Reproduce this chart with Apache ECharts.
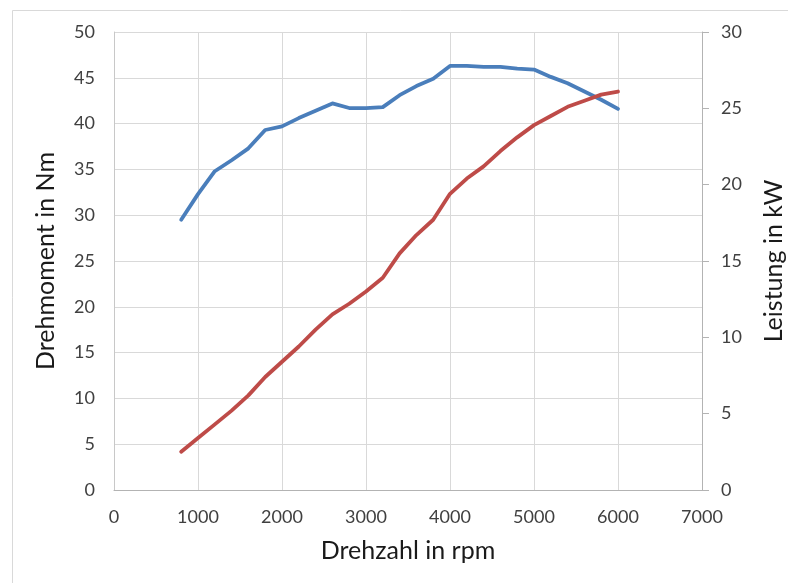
<!DOCTYPE html>
<html>
<head>
<meta charset="utf-8">
<script src="https://cdn.jsdelivr.net/npm/echarts@6/dist/echarts.min.js"></script>
<style>
  html, body { margin: 0; padding: 0; background: #ffffff; }
  #chart { width: 788px; height: 583px; }
</style>
</head>
<body>
<div id="chart"></div>
<script>
// Engine speed in rpm
const rpm = [800, 1000, 1200, 1400, 1600, 1800, 2000, 2200, 2400, 2600, 2800, 3000, 3200, 3400,
             3600, 3800, 4000, 4200, 4400, 4600, 4800, 5000, 5200, 5400, 5600, 5800, 6000];
// Torque in Nm
const torque = [29.5, 32.3, 34.8, 36.0, 37.3, 39.3, 39.7, 40.6, 41.4, 42.2, 41.7, 41.7, 41.8, 43.1,
                44.1, 44.9, 46.3, 46.3, 46.2, 46.2, 46.0, 45.9, 45.1, 44.4, 43.5, 42.6, 41.6];
// Power in kW
const power = [2.5, 3.4, 4.3, 5.2, 6.2, 7.4, 8.4, 9.4, 10.5, 11.5, 12.2, 13.0, 13.9, 15.5,
               16.7, 17.7, 19.4, 20.4, 21.2, 22.2, 23.1, 23.9, 24.5, 25.1, 25.5, 25.9, 26.1];

const xTitle = 'Drehzahl in rpm';
const yLeftTitle = 'Drehmoment in Nm';
const yRightTitle = 'Leistung in kW';

const FONT = 'Lato, "Open Sans", sans-serif';
const labelStyle = { fontFamily: FONT, fontSize: 18, color: '#404040' };
const titleStyle = { fontFamily: FONT, fontSize: 25, color: '#1a1a1a' };
const plainNumber = v => String(v);

const chart = echarts.init(document.getElementById('chart'), null, { renderer: 'canvas' });

chart.setOption({
  animation: false,
  backgroundColor: '#ffffff',
  graphic: [{
    type: 'rect',
    shape: { x: 12.5, y: 10.5, width: 800, height: 600 },
    style: { fill: 'none', stroke: '#d9d9d9', lineWidth: 1 },
    silent: true
  }],
  grid: { left: 114, right: 86, top: 32, bottom: 93, containLabel: false, outerBoundsMode: 'none' },
  xAxis: {
    type: 'value',
    min: 0, max: 7000, interval: 1000,
    name: xTitle,
    nameLocation: 'middle',
    nameGap: 48,
    nameTextStyle: titleStyle,
    axisLine: { show: true, lineStyle: { color: '#b3b3b3', width: 1 } },
    axisTick: { show: false },
    axisLabel: Object.assign({ margin: 18, formatter: plainNumber }, labelStyle),
    splitLine: { show: true, lineStyle: { color: '#d9d9d9', width: 1 } }
  },
  yAxis: [{
    type: 'value',
    position: 'left',
    min: 0, max: 50, interval: 5,
    name: yLeftTitle,
    nameLocation: 'middle',
    nameRotate: 90,
    nameGap: 56,
    nameTextStyle: titleStyle,
    axisLine: { show: true, lineStyle: { color: '#c8c8c8', width: 1 } },
    axisTick: { show: false },
    axisLabel: Object.assign({ margin: 19, formatter: plainNumber }, labelStyle),
    splitLine: { show: true, lineStyle: { color: '#d9d9d9', width: 1 } }
  }, {
    type: 'value',
    position: 'right',
    min: 0, max: 30, interval: 5,
    name: yRightTitle,
    nameLocation: 'middle',
    nameRotate: 90,
    nameGap: 59,
    nameTextStyle: titleStyle,
    axisLine: { show: true, lineStyle: { color: '#b3b3b3', width: 1 } },
    axisTick: { show: true, inside: false, length: 7, lineStyle: { color: '#b3b3b3' } },
    axisLabel: Object.assign({ margin: 19, formatter: plainNumber }, labelStyle),
    splitLine: { show: false }
  }],
  series: [{
    name: yLeftTitle,
    type: 'line',
    yAxisIndex: 0,
    data: rpm.map((r, i) => [r, torque[i]]),
    showSymbol: false,
    symbol: 'none',
    lineStyle: { color: '#4a7ebb', width: 3.8, join: 'round', cap: 'round' },
    itemStyle: { color: '#4a7ebb' }
  }, {
    name: yRightTitle,
    type: 'line',
    yAxisIndex: 1,
    data: rpm.map((r, i) => [r, power[i]]),
    showSymbol: false,
    symbol: 'none',
    lineStyle: { color: '#be4b48', width: 3.8, join: 'round', cap: 'round' },
    itemStyle: { color: '#be4b48' }
  }]
});
</script>
</body>
</html>
